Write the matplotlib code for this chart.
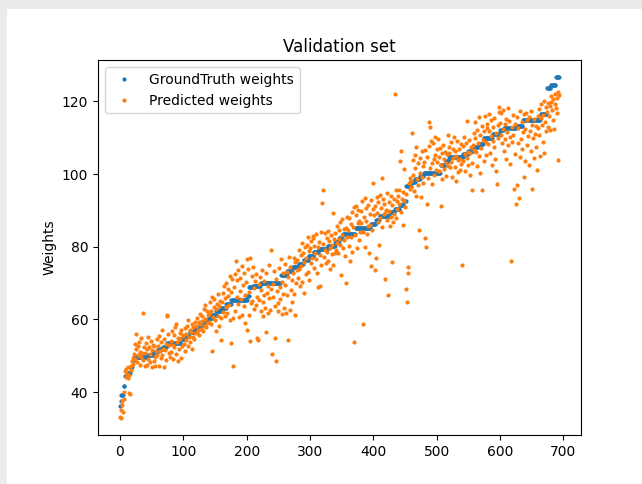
import numpy as np
import matplotlib
matplotlib.use('Agg')
import matplotlib.pyplot as plt
from matplotlib.patches import Rectangle

# ground truth weights are sorted, stored as (value, how many samples)
gt_values = [36.3, 37.5, 39.3, 41.8, 44.5, 45.2, 47.0, 48.5, 49.8, 50.3,
             51.0, 51.8, 52.5, 53.5, 54.5, 55.5, 56.5, 57.5, 58.5, 59.5,
             60.3, 61.2, 62.2, 63.2, 64.2, 65.3, 66.5, 68.8, 69.3, 70.0,
             72.2, 73.2, 74.3, 75.3, 76.4, 77.4, 78.5, 79.5, 80.3, 81.2,
             82.3, 83.5, 85.1, 86.3, 87.4, 88.4, 89.5, 90.5, 91.5, 92.5,
             96.8, 97.8, 98.7, 99.5, 100.2, 102.6, 103.5, 104.8, 105.5, 106.3,
             107.3, 108.3, 110.0, 111.0, 112.0, 112.8, 113.2, 114.8, 116.5, 123.6,
             124.6, 126.6]
gt_counts = [1, 1, 4, 2, 5, 4, 3, 2, 22, 8,
             8, 8, 6, 22, 6, 8, 8, 8, 8, 6,
             6, 6, 8, 8, 8, 25, 3, 6, 12, 32,
             10, 8, 10, 8, 8, 8, 8, 14, 12, 6,
             6, 20, 24, 8, 6, 16, 8, 8, 6, 4,
             8, 6, 8, 6, 26, 8, 6, 22, 8, 8,
             8, 8, 14, 12, 6, 20, 10, 28, 10, 6,
             8, 6]

predicted = [
    33.3, 32.9, 35.2, 36.5, 37.6, 34.6, 38.1, 40.0, 45.8, 44.2, 46.4, 45.1, 43.8, 46.9, 44.7, 39.8, 39.4, 47.2, 46.0, 48.5,
    49.3, 47.8, 50.6, 53.2, 49.1, 51.8, 56.0, 48.4, 52.7, 50.2, 53.9, 47.6, 51.1, 49.6, 54.8, 50.9, 61.9, 48.9, 52.3, 47.2,
    50.8, 53.5, 47.5, 51.9, 49.0, 55.2, 52.4, 48.3, 50.5, 54.1, 46.9, 51.6, 53.0, 48.7, 52.8, 49.8, 47.1, 51.3, 54.6, 50.1,
    52.6, 47.3, 55.4, 51.2, 49.4, 53.8, 57.2, 50.3, 52.0, 46.8, 54.5, 51.6, 48.9, 53.3, 60.9, 61.3, 55.9, 50.7, 52.9, 49.6,
    54.2, 51.0, 56.8, 53.1, 49.2, 55.7, 52.3, 57.9, 50.4, 58.8, 53.9, 48.7, 55.0, 51.8, 56.3, 54.7, 49.5, 57.1, 52.6, 55.4,
    55.8, 53.2, 57.6, 51.4, 56.1, 54.3, 58.2, 52.7, 59.9, 55.3, 57.0, 53.8, 56.6, 51.9, 58.7, 55.1, 57.9, 54.6, 59.3, 56.2,
    58.1, 56.4, 60.5, 57.2, 59.3, 55.7, 61.4, 58.8, 57.5, 60.9, 59.6, 56.9, 63.0, 58.2, 64.1, 60.2, 57.8, 62.4, 59.0, 61.1,
    61.6, 59.4, 64.8, 62.3, 58.7, 66.2, 51.2, 60.8, 63.5, 65.7, 59.9, 62.9, 56.8, 64.2, 61.0, 66.9, 63.7, 58.3, 65.1, 60.4,
    54.4, 64.9, 62.1, 67.3, 69.2, 60.9, 65.8, 63.4, 70.1, 61.7, 66.5, 68.4, 64.0, 72.0, 59.8, 67.6, 53.5, 71.2, 47.1, 60.3,
    68.9, 72.6, 62.4, 76.2, 66.1, 70.8, 64.3, 73.5, 60.6, 67.9, 71.4, 65.6, 74.6, 61.2, 69.5, 63.7, 72.9, 66.8, 58.9, 70.3,
    76.6, 57.0, 73.8, 61.3, 67.5, 54.0, 77.0, 64.6, 71.9, 65.2, 74.3, 62.8, 68.6, 70.7, 63.9, 72.5, 54.9, 66.3, 54.4, 69.8,
    65.4, 71.6, 62.3, 68.1, 73.7, 64.8, 60.9, 70.5, 66.7, 63.2, 56.6, 72.8, 67.4, 61.8, 69.2, 74.9, 65.9, 62.6, 79.2, 68.5,
    50.5, 69.7, 66.2, 73.4, 63.8, 55.0, 71.2, 48.6, 67.9, 64.5, 62.2, 74.1, 68.8, 65.7, 76.6, 70.3, 61.6, 72.9, 66.9, 63.1,
    69.4, 75.2, 61.9, 73.0, 66.8, 54.4, 71.7, 77.3, 62.6, 74.5, 68.2, 70.9, 64.7, 72.8, 76.9, 67.1, 61.3, 75.8, 69.9, 73.6,
    76.3, 71.5, 79.1, 73.8, 69.2, 77.6, 74.7, 81.0, 70.4, 78.2, 75.9, 67.4, 79.8, 72.6, 76.9, 80.4, 82.6, 73.1, 78.7, 70.8,
    79.6, 75.4, 81.7, 77.0, 82.5, 82.9, 74.1, 80.3, 78.2, 76.6, 83.4, 72.8, 79.9, 69.0, 81.2, 69.2, 77.8, 84.1, 75.0, 91.9,
    80.8, 95.5, 77.3, 83.9, 79.1, 75.6, 82.4, 78.6, 84.3, 76.2, 81.5, 73.9, 79.7, 83.1, 77.9, 80.6, 75.0, 89.4, 82.0, 78.4,
    83.7, 79.2, 85.6, 81.0, 78.3, 84.5, 82.1, 86.8, 80.4, 72.3, 83.3, 87.5, 79.7, 84.9, 81.8, 77.4, 70.0, 85.2, 82.7, 88.3,
    84.6, 80.1, 87.9, 76.0, 86.2, 82.8, 89.6, 78.5, 85.4, 53.7, 90.8, 83.2, 88.7, 91.3, 79.6, 86.5, 90.1, 81.9, 87.2, 84.0,
    89.9, 86.4, 92.5, 58.8, 84.1, 88.2, 79.8, 93.4, 87.0, 90.7, 83.5, 85.8, 91.6, 78.3, 88.9, 86.1, 92.9, 74.7, 84.7, 90.3,
    97.6, 88.6, 73.6, 91.2, 76.8, 89.4, 93.8, 86.9, 92.2, 80.5, 94.1, 87.8, 90.6, 98.9, 85.3, 93.0, 88.9, 91.7, 71.1, 89.2,
    90.1, 87.4, 94.7, 66.6, 92.3, 89.8, 85.6, 93.9, 88.3, 75.9, 91.4, 86.7, 93.1, 89.0, 121.9, 95.5, 87.9, 92.6, 90.4, 94.0,
    91.8, 95.7, 103.5, 106.2, 89.6, 93.2, 95.1, 86.0, 92.7, 101.3, 90.9, 94.4, 68.4, 64.9, 74.5, 72.9, 97.5, 99.0, 95.8, 98.2,
    96.4, 111.4, 103.8, 99.7, 95.2, 105.1, 101.6, 94.0, 107.3, 98.5, 102.9, 96.9, 84.6, 104.5, 100.3, 93.6, 106.4, 99.1, 102.2, 97.4,
    103.2, 106.5, 82.3, 80.0, 91.8, 104.6, 98.9, 107.8, 114.4, 101.7, 113.0, 109.2, 102.9, 97.3, 108.4, 104.0, 99.6, 110.1, 105.3, 101.0,
    106.8, 103.4, 109.5, 100.9, 104.7, 107.2, 91.2, 102.5, 105.9, 98.6, 108.1, 104.1, 101.3, 106.0, 103.0, 99.4, 105.6, 102.1, 110.7, 107.4,
    105.7, 101.8, 108.9, 103.3, 99.2, 107.0, 104.4, 110.3, 102.0, 106.2, 98.0, 105.0, 109.0, 103.9, 100.6, 106.9, 104.2, 101.1, 108.3, 102.7,
    74.9, 107.8, 103.6, 110.2, 105.4, 100.9, 108.6, 104.3, 114.6, 106.1, 102.4, 109.4, 105.7, 99.8, 107.5, 95.6, 103.1, 108.0, 111.3, 106.5,
    109.9, 114.3, 106.0, 112.1, 102.2, 108.4, 115.8, 104.9, 110.6, 100.4, 107.1, 113.2, 95.6, 109.3, 111.8, 103.6, 116.1, 108.8, 105.2, 112.6,
    113.7, 108.2, 111.9, 116.4, 105.9, 110.5, 114.8, 102.6, 109.1, 112.9, 107.4, 115.5, 104.1, 111.2, 100.7, 97.2, 113.4, 109.8, 117.2, 118.5,
    114.1, 110.7, 116.9, 108.5, 112.4, 117.6, 106.3, 113.8, 109.7, 115.2, 104.0, 111.6, 118.2, 107.9, 114.6, 102.8, 110.2, 76.2, 113.0, 108.9,
    116.2, 110.8, 96.0, 113.9, 105.4, 91.8, 97.0, 115.7, 108.6, 112.7, 93.5, 104.6, 117.4, 109.5, 114.4, 106.9, 111.5, 99.3, 116.6, 103.7,
    112.3, 116.8, 108.1, 114.9, 110.4, 102.5, 115.6, 111.7, 106.2, 117.3, 113.6, 96.0, 109.8, 104.3, 115.1, 111.0, 107.4, 113.3, 101.2, 116.0,
    112.8, 117.9, 110.6, 105.0, 115.4, 119.2, 113.5, 108.7, 116.3, 120.1, 105.7, 114.2, 118.4, 111.9, 117.0, 113.0, 119.6, 115.9, 112.2, 118.8,
    119.9, 121.4, 117.5, 120.6, 114.9, 112.3, 119.3, 122.0, 118.1, 120.9, 116.8, 103.9, 122.6, 121.8,
]

ground_truth = np.repeat(gt_values, gt_counts)

fig = plt.figure(figsize=(6.42, 4.84), dpi=100)
fig.patch.set_facecolor('#ebebeb')
# white page inside the light grey screenshot frame
fig.patches.append(Rectangle((7 / 642, 0), 1, 1 - 9 / 484, transform=fig.transFigure,
                             facecolor='white', edgecolor='none', zorder=-1))

ax = fig.add_axes([98 / 642, 1 - 435 / 484, 483 / 642, 374.7 / 484])
ax.plot(np.arange(len(ground_truth)), ground_truth, '.', markersize=4, label='GroundTruth weights')
ax.plot(np.arange(len(predicted)), predicted, '.', markersize=4, label='Predicted weights')
ax.set_title('Validation set')
ax.set_ylabel('Weights')
ax.legend(loc='upper left')

fig.savefig('out.png', dpi=100, facecolor=fig.get_facecolor())
